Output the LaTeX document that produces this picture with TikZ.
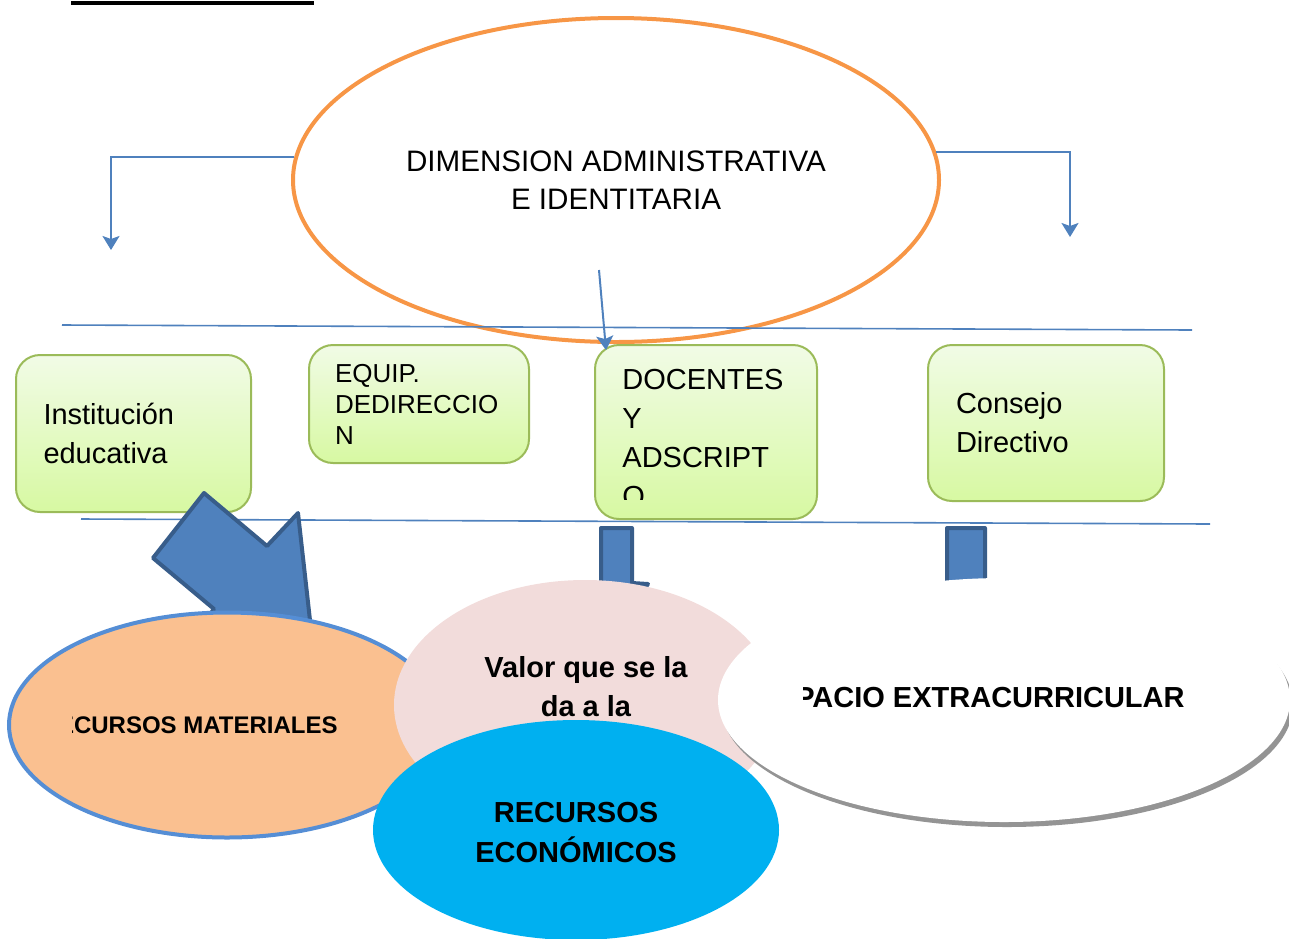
\documentclass[tikz,border=0pt]{standalone}
\usepackage{fontspec}
\setmainfont{Liberation Sans}
\usetikzlibrary{
  positioning,
  arrows.meta,
  shapes.geometric,
  shadows
}
\definecolor{linkblue}{HTML}{4F81BD}
\definecolor{darkblue}{HTML}{385D8A}
\definecolor{ovalorange}{HTML}{F79646}
\definecolor{boxgreen}{HTML}{9BBB59}
\definecolor{boxtop}{HTML}{F1FBE6}
\definecolor{boxbottom}{HTML}{D7F9A2}
\definecolor{peach}{HTML}{FAC090}
\definecolor{rimblue}{HTML}{558ED5}
\definecolor{rosy}{HTML}{F2DCDB}
\definecolor{skyblue}{HTML}{00B0F0}
\tikzset{
  flow/.style={draw=linkblue, line width=1pt,
    -{Stealth[length=7pt,width=8.5pt,inset=1.5pt]}},
  rule/.style={draw=linkblue, line width=0.8pt},
  greenbox/.style={rectangle, rounded corners=12pt, draw=boxgreen,
    line width=1pt, top color=boxtop, bottom color=boxbottom,
    anchor=north west, align=left, inner xsep=13.5pt},
  boxtext/.style={font=\fontsize{14.5}{19.5}\selectfont},
  blockarrow/.style={fill=linkblue, draw=darkblue, line width=2pt,
    line join=round},
  oval/.style={ellipse, inner sep=0pt},
  ovaltext/.style={align=center, inner sep=0pt,
    font=\fontsize{14.5}{19.5}\selectfont\bfseries}
}

\begin{document}
\begin{tikzpicture}[x=0.5pt, y=-0.5pt]
    \useasboundingbox (0,0) rectangle (1289,938);
    \fill (71,0.5) rectangle (314,4.5);

    % top oval
    \node[oval, draw=ovalorange, line width=2pt, minimum width=323pt,
      minimum height=162pt, align=center,
      font=\fontsize{14.8}{19}\selectfont] (dim) at (616,180)
      {DIMENSION ADMINISTRATIVA\\E IDENTITARIA};

    % separators
    \coordinate (ruleAw) at (62,325);
    \coordinate (ruleAe) at (1192,330);
    \coordinate (ruleBw) at (81,519);
    \coordinate (ruleBe) at (1210,524);
    \draw[rule] (ruleAw) -- (ruleAe);
    \draw[rule] (ruleBw) -- (ruleBe);

    % boxes
    \node[greenbox, boxtext, minimum width=117.5pt, minimum height=78.5pt,
      text width=90pt] (inst) at (15,354) {Institución\\educativa};
    \node[greenbox, minimum width=110pt, minimum height=59pt,
      text width=84pt, inner xsep=13pt,
      font=\fontsize{13}{15.5}\selectfont] (equip) at (308,344)
      {EQUIP.\\DEDIRECCIO\\N};
    \node[greenbox, minimum width=111pt, minimum height=87pt] (doc)
      at (594,344) {};
    \node[greenbox, boxtext, minimum width=118pt, minimum height=78pt,
      text width=90pt, inner xsep=14pt] (cons) at (927,344)
      {Consejo\\Directivo};
    \begin{scope}
      \clip (594,344) rectangle (816,499);
      \node[boxtext, anchor=north west, align=left, inner sep=0pt] (doctxt)
        at (622,369) {DOCENTES\\Y\\ADSCRIPT\\O};
    \end{scope}

    % arrows from the oval
    \coordinate (leftend) at (111,250);
    \coordinate (rightend) at (1070,237);
    \coordinate (midstart) at (599,270);
    \draw[flow] (dim.176) -| (leftend);
    \draw[flow] (dim.5) -| (rightend);
    \draw[flow] (midstart) -- ([shift={(12,6)}]doc.north west);

    % block arrows
    \draw[blockarrow] (204,493) -- (267,546) -- (298,513) -- (312,638)
      -- (186,645) -- (214,609) -- (153,558) -- cycle;
    \draw[blockarrow] (601,528) -- (632,528) -- (632,583) -- (648,584)
      -- (616,625) -- (585,584) -- (601,583) -- cycle;
    \draw[blockarrow] (947,528) -- (985,528) -- (985,585) -- (1005,585)
      -- (966,630) -- (927,585) -- (947,585) -- cycle;

    % lower ovals
    \node[oval, fill=peach, draw=rimblue, line width=2pt,
      minimum width=218pt, minimum height=112.5pt] (mat) at (227,725) {};
    \node[oval, fill=rosy, minimum width=191pt, minimum height=125pt]
      (valor) at (585,705) {};
    \node[oval, fill=white, minimum width=286pt, minimum height=122pt,
      drop shadow={shadow xshift=1.5pt, shadow yshift=-2.5pt,
      fill=black!42, opacity=1}] (espacio) at (1004,700) {};
    \node[oval, fill=skyblue, minimum width=203pt, minimum height=110pt]
      (econ) at (576,830) {};

    \begin{scope}
      \clip (72,690) rectangle (460,760);
      \node[ovaltext, font=\fontsize{12}{14}\selectfont\bfseries,
        anchor=east] (mattxt) at (338,725) {RECURSOS MATERIALES};
    \end{scope}
    \node[ovaltext] (valortxt) at (586,687) {Valor que se la\\da a la};
    \begin{scope}
      \clip (803,660) rectangle (1260,740);
      \node[ovaltext, anchor=east] (espaciotxt) at (1185,698)
        {ESPACIO EXTRACURRICULAR};
    \end{scope}
    \node[ovaltext, font=\fontsize{14.5}{20}\selectfont\bfseries]
      (econtxt) at (576,832) {RECURSOS\\ECONÓMICOS};
  \end{tikzpicture}
\end{document}
